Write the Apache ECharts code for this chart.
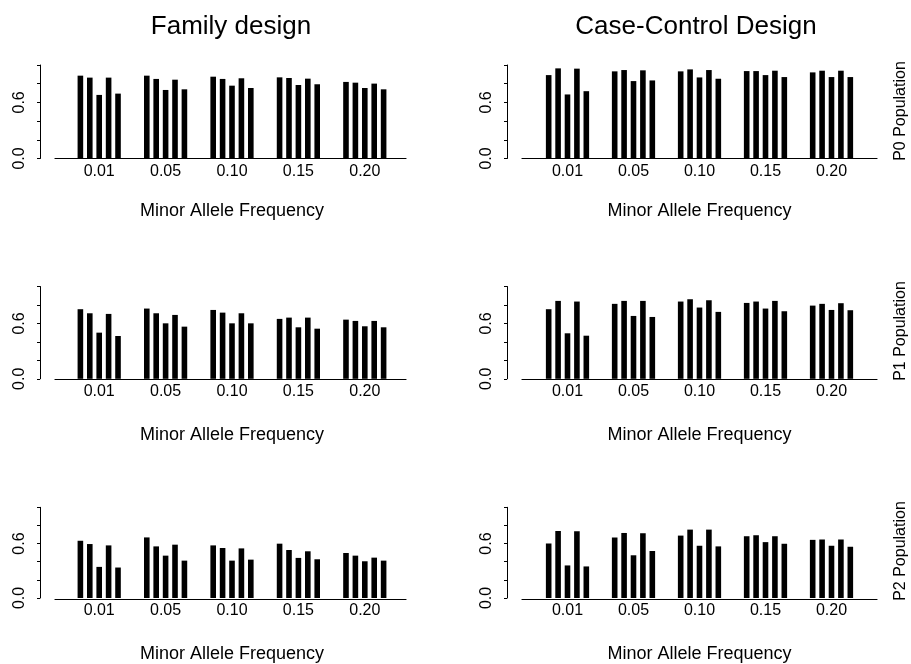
<!DOCTYPE html>
<html>
<head>
<meta charset="utf-8">
<script src="https://cdn.jsdelivr.net/npm/echarts@6/dist/echarts.min.js"></script>
<style>
html,body{margin:0;padding:0;background:#fff;}
#chart{width:911px;height:664px;}
</style>
</head>
<body>
<div id="chart"></div>
<script>
// ---- data ----
const categories = ['0.01', '0.05', '0.10', '0.15', '0.20'];
const yTickLabels = ['0.0', '0.6'];
const columnTitles = ['Family design', 'Case-Control Design'];
const rowLabels = ['P0 Population', 'P1 Population', 'P2 Population'];
const xAxisTitle = 'Minor Allele Frequency';

// values per MAF group, 5 bars in each group
const familyP0 = [[0.886,0.865,0.680,0.865,0.694],[0.886,0.851,0.733,0.843,0.740],[0.875,0.851,0.779,0.858,0.754],[0.868,0.861,0.786,0.854,0.794],[0.819,0.811,0.754,0.801,0.740]];
const caseP0   = [[0.892,0.964,0.685,0.961,0.720],[0.932,0.946,0.828,0.943,0.835],[0.932,0.953,0.867,0.946,0.853],[0.935,0.935,0.892,0.939,0.871],[0.921,0.939,0.871,0.939,0.871]];
const familyP1 = [[0.754,0.710,0.500,0.703,0.464],[0.761,0.710,0.601,0.692,0.565],[0.746,0.717,0.601,0.710,0.601],[0.649,0.663,0.558,0.663,0.543],[0.641,0.627,0.569,0.627,0.558]];
const caseP1   = [[0.754,0.844,0.493,0.837,0.467],[0.812,0.844,0.681,0.844,0.670],[0.837,0.862,0.772,0.851,0.725],[0.822,0.837,0.761,0.844,0.732],[0.793,0.812,0.746,0.819,0.743]];
const familyP2 = [[0.631,0.595,0.343,0.580,0.336],[0.668,0.569,0.467,0.588,0.412],[0.580,0.551,0.412,0.547,0.423],[0.599,0.529,0.442,0.515,0.427],[0.496,0.467,0.405,0.445,0.412]];
const caseP2   = [[0.601,0.739,0.359,0.736,0.348],[0.667,0.717,0.471,0.714,0.518],[0.688,0.754,0.576,0.754,0.569],[0.681,0.692,0.616,0.681,0.598],[0.641,0.645,0.576,0.645,0.565]];

const panels = [
  [familyP0, caseP0],
  [familyP1, caseP1],
  [familyP2, caseP2]
];

// ---- layout ----
const FONT = "'Liberation Sans', Arial, sans-serif";
const cols = [
  { barLeft: 66, barWidth: 332, axisLeft: 55, axisWidth: 351, yOffset: 26, center: 226 },
  { barLeft: 534.5, barWidth: 330, axisLeft: 522, axisWidth: 355, yOffset: 27.5, center: 691 }
];
const rows = [
  { top: 65, height: 93.5, label: 111, nameGap: 44 },
  { top: 286.5, height: 92.3, label: 331, nameGap: 47 },
  { top: 507.3, height: 91.8, label: 551, nameGap: 47 }
];

const option = {
  animation: false,
  backgroundColor: '#fff',
  textStyle: { fontFamily: FONT, color: '#000' },
  title: [], grid: [], xAxis: [], yAxis: [], series: [], graphic: []
};

columnTitles.forEach((t, c) => {
  option.title.push({
    text: t, left: cols[c].center, top: 9, textAlign: 'center',
    textStyle: { fontFamily: FONT, fontSize: 26, fontWeight: 'normal', color: '#000' }
  });
});

rows.forEach((row, r) => {
  cols.forEach((col, c) => {
    const gb = option.grid.length;
    option.grid.push({ left: col.barLeft, width: col.barWidth, top: row.top, height: row.height });
    const ga = option.grid.length;
    option.grid.push({ left: col.axisLeft, width: col.axisWidth, top: row.top, height: row.height });

    const xb = option.xAxis.length;
    option.xAxis.push({
      gridIndex: gb, type: 'category', data: categories,
      axisLine: { show: false }, axisTick: { show: false }, splitLine: { show: false },
      axisLabel: { fontFamily: FONT, fontSize: 16, color: '#000', margin: 5 },
      name: xAxisTitle, nameLocation: 'middle', nameGap: row.nameGap,
      nameTextStyle: { fontFamily: FONT, fontSize: 18, color: '#000' }
    });
    const yb = option.yAxis.length;
    option.yAxis.push({
      gridIndex: gb, type: 'value', min: 0, max: 1, interval: 0.2, offset: col.yOffset,
      axisLine: { show: true, lineStyle: { color: '#000', width: 1 } },
      axisTick: { show: true, length: 3, lineStyle: { color: '#000' } },
      splitLine: { show: false },
      axisLabel: {
        rotate: 90, margin: 12, fontFamily: FONT, fontSize: 16, color: '#000', showMaxLabel: true, showMinLabel: true,
        formatter: v => yTickLabels.indexOf(v.toFixed(1)) >= 0 ? v.toFixed(1) : ''
      }
    });
    option.xAxis.push({
      gridIndex: ga, type: 'value', min: 0, max: 1,
      axisLine: { show: true, onZero: false, lineStyle: { color: '#000', width: 1.2 } },
      axisTick: { show: false }, axisLabel: { show: false }, splitLine: { show: false }
    });
    option.yAxis.push({ gridIndex: ga, type: 'value', min: 0, max: 1, show: false });

    const data = panels[r][c];
    for (let i = 0; i < 5; i++) {
      option.series.push({
        type: 'bar', xAxisIndex: xb, yAxisIndex: yb,
        data: data.map(g => g[i]),
        barWidth: 5.6, barGap: '68%',
        itemStyle: { color: '#000' },
        silent: true
      });
    }
  });
  option.graphic.push({
    type: 'text', x: 901, y: row.label, rotation: Math.PI / 2,
    style: { text: rowLabels[r], font: '16px ' + FONT, fill: '#000', align: 'center', verticalAlign: 'middle' }
  });
});

const chart = echarts.init(document.getElementById('chart'), null, { renderer: 'canvas' });
chart.setOption(option);
</script>
</body>
</html>
